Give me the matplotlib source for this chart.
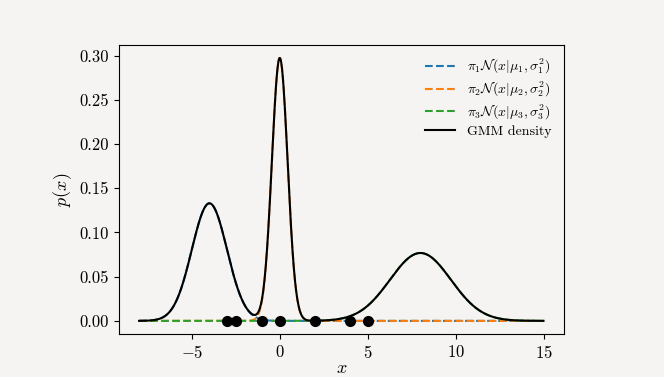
import numpy as np
import matplotlib
matplotlib.use("Agg")
import matplotlib.pyplot as plt

# data points and GMM parameters
data_x = [-3, -2.5, -1, 0, 2, 4, 5]
weights = [1/3, 1/3, 1/3]
means = [-4, 0, 8]
variances = [1, 0.2, 3]
labels = [r"$\pi_1\mathcal{N}(x|\mu_1,\sigma_1^2)$",
          r"$\pi_2\mathcal{N}(x|\mu_2,\sigma_2^2)$",
          r"$\pi_3\mathcal{N}(x|\mu_3,\sigma_3^2)$"]
colors = ["C0", "C1", "C2"]
x_min, x_max = -8, 15

plt.rcParams["font.family"] = "serif"
plt.rcParams["font.serif"] = ["cmr10"]
plt.rcParams["mathtext.fontset"] = "cm"
plt.rcParams["axes.formatter.use_mathtext"] = True
plt.rcParams["axes.unicode_minus"] = True

bg = "#f5f4f2"

def gauss(x, mu, var):
	return np.exp(-(x - mu)**2 / (2*var)) / np.sqrt(2*np.pi*var)

xs = np.linspace(x_min, x_max, 1000)

fig = plt.figure(figsize=(6.64, 3.77), dpi=100, facecolor=bg)
ax = fig.add_axes([0.179, 0.114, 0.670, 0.767], facecolor=bg)

total = np.zeros_like(xs)
for w, mu, var, lab, c in zip(weights, means, variances, labels, colors):
	comp = w * gauss(xs, mu, var)
	total += comp
	ax.plot(xs, comp, "--", color=c, lw=1.5, label=lab)

ax.plot(xs, total, "-", color="black", lw=1.5, label="GMM density")
ax.plot(data_x, np.zeros(len(data_x)), "o", color="black", markersize=7, zorder=5)

ax.set_xlabel("$x$", fontsize=13, labelpad=0)
ax.set_ylabel("$p(x)$", fontsize=13)
ax.tick_params(labelsize=12)
ax.set_xticks([-5, 0, 5, 10, 15])
ax.set_yticks([0.0, 0.05, 0.10, 0.15, 0.20, 0.25, 0.30])
ax.yaxis.set_major_formatter(matplotlib.ticker.FormatStrFormatter("%.2f"))

ax.legend(frameon=False, fontsize=10, loc="upper right", labelspacing=0.25,
	handlelength=2.2)

fig.savefig("out.png", dpi=100, facecolor=bg)
